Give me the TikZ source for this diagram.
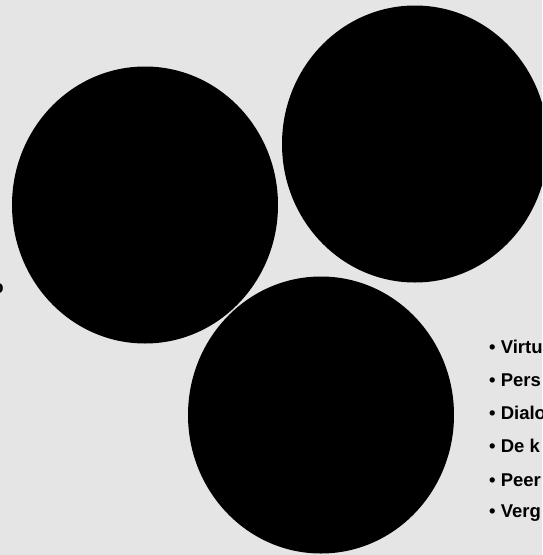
\documentclass[tikz,border=0pt]{standalone}
\usepackage{fontspec}
\setmainfont{Liberation Sans}
\usetikzlibrary{shapes.geometric}
\tikzset{
  disc/.style={ellipse, fill=black, draw=none, inner sep=0pt, minimum width=266pt, minimum height=277pt},
  item/.style={anchor=west, inner sep=0pt, font=\fontsize{18.5}{22}\selectfont\bfseries, text=black}
}
\begin{document}
\begin{tikzpicture}[x=1pt,y=-1pt]
\useasboundingbox (0,0) rectangle (542,555);
\clip (0,0) rectangle (542,555);
\fill[black!10] (0,0) rectangle (542,555);
\node[disc] (c1) at (145,205) {};
\node[disc] (c2) at (415,144) {};
\node[disc] (c3) at (321,415) {};
\node[item] (i1) at (489,347) {• Virtu};
\node[item] (i2) at (489,380) {• Pers};
\node[item] (i3) at (489,413) {• Dialo};
\node[item] (i4) at (489,446) {• De k};
\node[item] (i5) at (489,480) {• Peer};
\node[item] (i6) at (489,513) {• Verg};
\node[item, anchor=east] (frag) at (4,289) {o};
\end{tikzpicture}
\end{document}
